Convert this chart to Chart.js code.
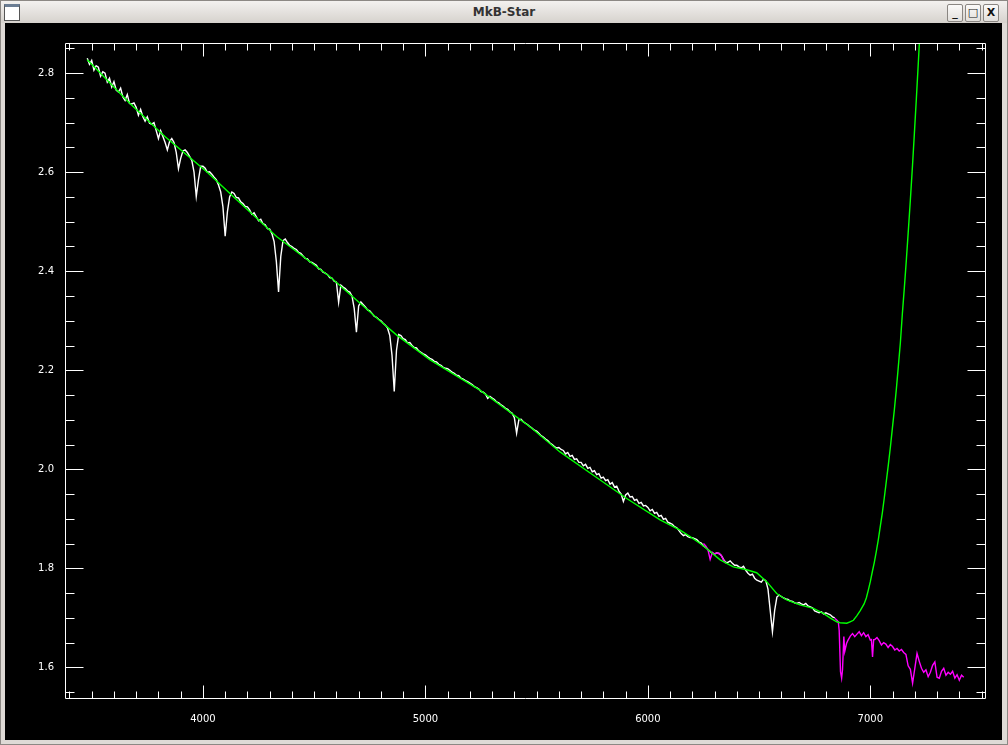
<!DOCTYPE html>
<html>
<head>
<meta charset="utf-8">
<title>MkB-Star</title>
<script src="https://cdn.jsdelivr.net/npm/chart.js@4.4.1/dist/chart.umd.min.js"></script>
<style>
  body { margin: 0; width: 1008px; height: 745px; background: #d9d5d1; position: relative; overflow: hidden; font-family: "DejaVu Sans", sans-serif; }
  #win { position: absolute; left: 0; top: 0; width: 1006px; height: 743px; border: 1px solid #8c8884; background: #dedad6; }
  #titlebar { position: absolute; left: 0; top: 0; width: 1006px; height: 22px; background: linear-gradient(#f3f1ef, #d6d2cd); }
  #title { position: absolute; left: 0; width: 1006px; top: 4px; text-align: center; font-size: 12px; font-weight: bold; color: #333; }
  #icon { position: absolute; left: 3px; top: 3px; width: 14px; height: 13px; border: 1px solid #555; background: #fff; border-top: 3px solid #6b7d93; }
  .btn { position: absolute; top: 3px; width: 14px; height: 16px; border: 1px solid #8a8682; border-radius: 2px; background: linear-gradient(#fbfaf9, #e2dfdb); font-size: 11px; font-weight: bold; color: #111; text-align: center; line-height: 16px; }
  #plot { position: absolute; left: 4px; top: 22px; width: 997px; height: 717px; background: #000; }
</style>
</head>
<body>
<div id="win">
  <div id="titlebar">
    <div id="icon"></div>
    <div id="title">MkB-Star</div>
    <div class="btn" style="left:946px">_</div>
    <div class="btn" style="left:964px">&#9633;</div>
    <div class="btn" style="left:982px">X</div>
  </div>
  <div id="plot"><canvas id="spec" width="997" height="717"></canvas></div>
</div>
<script>
// wavelength grid of the observed spectrum (white), Angstrom
const waveStart = 3480;
const waveStep = 10;
const whiteFlux = [
  2.830, 2.818,
  2.826, 2.806, 2.815, 2.812, 2.794, 2.803, 2.800, 2.782, 2.790, 2.772,
  2.783, 2.766, 2.762, 2.770, 2.752, 2.745, 2.757, 2.739, 2.738, 2.740,
  2.731, 2.715, 2.727, 2.712, 2.703, 2.712, 2.699, 2.697, 2.700, 2.684,
  2.668, 2.684, 2.672, 2.660, 2.645, 2.662, 2.668, 2.660, 2.640, 2.607,
  2.628, 2.643, 2.645, 2.640, 2.632, 2.624, 2.600, 2.551, 2.585, 2.612,
  2.612, 2.608, 2.600, 2.601, 2.596, 2.590, 2.585, 2.574, 2.560, 2.530,
  2.471, 2.520, 2.550, 2.560, 2.557, 2.549, 2.548, 2.540, 2.537, 2.531,
  2.530, 2.524, 2.515, 2.518, 2.510, 2.502, 2.505, 2.496, 2.494, 2.486,
  2.485, 2.476, 2.460, 2.420, 2.358, 2.430, 2.462, 2.465, 2.458, 2.452,
  2.450, 2.446, 2.444, 2.438, 2.436, 2.431, 2.426, 2.425, 2.419, 2.418,
  2.415, 2.412, 2.405, 2.404, 2.398, 2.396, 2.393, 2.387, 2.386, 2.380,
  2.378, 2.337, 2.372, 2.368, 2.365, 2.360, 2.358, 2.350, 2.325, 2.277,
  2.330, 2.338, 2.333, 2.328, 2.322, 2.320, 2.315, 2.309, 2.307, 2.303,
  2.300, 2.295, 2.291, 2.285, 2.270, 2.230, 2.157, 2.240, 2.272, 2.270,
  2.264, 2.262, 2.255, 2.256, 2.250, 2.246, 2.245, 2.239, 2.236, 2.233,
  2.231, 2.227, 2.224, 2.222, 2.218, 2.217, 2.212, 2.210, 2.206, 2.204,
  2.203, 2.200, 2.196, 2.194, 2.190, 2.189, 2.184, 2.182, 2.179, 2.177,
  2.174, 2.171, 2.167, 2.165, 2.162, 2.157, 2.156, 2.152, 2.143, 2.147,
  2.144, 2.141, 2.136, 2.134, 2.130, 2.127, 2.123, 2.121, 2.116, 2.113,
  2.104, 2.073, 2.100, 2.101, 2.096, 2.093, 2.090, 2.086, 2.083, 2.079,
  2.077, 2.073, 2.068, 2.065, 2.061, 2.058, 2.053, 2.050, 2.046, 2.043,
  2.044, 2.040, 2.038, 2.031, 2.034, 2.026, 2.028, 2.020, 2.021, 2.014,
  2.014, 2.007, 2.010, 2.002, 2.004, 1.995, 1.997, 1.989, 1.991, 1.982,
  1.984, 1.977, 1.979, 1.970, 1.973, 1.964, 1.966, 1.956, 1.950, 1.935,
  1.948, 1.952, 1.944, 1.945, 1.937, 1.939, 1.931, 1.933, 1.926, 1.927,
  1.923, 1.916, 1.919, 1.911, 1.913, 1.905, 1.907, 1.899, 1.901, 1.893,
  1.891, 1.889, 1.884, 1.882, 1.876, 1.870, 1.866, 1.868, 1.864, 1.862,
  1.862, 1.860, 1.858, 1.853, 1.851, 1.845, 1.842, 1.838, 1.834, 1.830,
  1.829, 1.831, 1.830, 1.826, 1.818, 1.812, 1.812, 1.815, 1.810, 1.806,
  1.806, 1.803, 1.801, 1.804, 1.796, 1.790, 1.786, 1.788, 1.780, 1.776,
  1.774, 1.772, 1.778, 1.775, 1.758, 1.715, 1.672, 1.715, 1.742, 1.746,
  1.743, 1.740, 1.738, 1.737, 1.734, 1.733, 1.730, 1.729, 1.731, 1.728,
  1.726, 1.729, 1.724, 1.722, 1.720, 1.714, 1.712, 1.710, 1.712, 1.708,
  1.710, 1.708, 1.706, 1.702, 1.700
];

// masked pixels (magenta)
const magBlueWave = [6250, 6260, 6270, 6280, 6290, 6300, 6310, 6320, 6330, 6340, 6350];
const magBlueFlux = [1.850, 1.845, 1.838, 1.818, 1.832, 1.829, 1.831, 1.830, 1.826, 1.817, 1.810];

const magRedWave = [6840, 6850, 6856, 6860, 6866, 6871, 6875, 6881, 6885, 6893,
  6900, 6910, 6920, 6930, 6940, 6950, 6960, 6970, 6980, 6990,
  7000, 7005, 7010, 7015, 7020, 7030, 7040, 7050, 7060, 7070, 7080, 7090,
  7100, 7110, 7120, 7130, 7140, 7150, 7160, 7170, 7180, 7190,
  7200, 7210, 7220, 7230, 7240, 7250, 7260, 7270, 7280, 7290,
  7300, 7310, 7320, 7330, 7340, 7350, 7360, 7370, 7380, 7390,
  7400, 7410, 7420];
const magRedFlux = [1.699, 1.695, 1.692, 1.675, 1.591, 1.578, 1.595, 1.662, 1.632, 1.648,
  1.655, 1.663, 1.668, 1.662, 1.667, 1.672, 1.664, 1.670, 1.662, 1.666,
  1.655, 1.656, 1.621, 1.656, 1.656, 1.660, 1.654, 1.645, 1.650, 1.647, 1.640, 1.646,
  1.642, 1.635, 1.638, 1.633, 1.636, 1.630, 1.626, 1.603, 1.596, 1.568,
  1.598, 1.628, 1.612, 1.598, 1.590, 1.595, 1.581, 1.590, 1.604, 1.611,
  1.580, 1.578, 1.592, 1.598, 1.584, 1.590, 1.586, 1.592, 1.578, 1.585,
  1.574, 1.584, 1.580];

// continuum fit (green)
const fitWave = [3480, 3672, 3829, 4017, 4136, 4331, 4571, 4796, 4871, 5021,
  5245, 5470, 5605, 5755, 5905, 6055, 6145, 6190, 6235, 6264,
  6325, 6384, 6444, 6489, 6534, 6579, 6624, 6684, 6744, 6789,
  6819, 6849, 6864, 6894, 6909, 6924, 6939, 6954, 6972, 6982,
  6991, 7000, 7009, 7018, 7027, 7036, 7045, 7054, 7063, 7072,
  7081, 7090, 7099, 7108, 7117, 7126, 7135, 7144, 7153, 7162,
  7171, 7180, 7189, 7198, 7207, 7216, 7225];
const fitFlux = [2.827, 2.739, 2.672, 2.601, 2.551, 2.470, 2.389, 2.300, 2.271, 2.221,
  2.160, 2.086, 2.035, 1.988, 1.941, 1.898, 1.877, 1.864, 1.850, 1.840,
  1.817, 1.803, 1.797, 1.791, 1.773, 1.749, 1.736, 1.726, 1.719, 1.709,
  1.700, 1.692, 1.690, 1.689, 1.692, 1.695, 1.704, 1.714, 1.728, 1.740,
  1.756, 1.773, 1.793, 1.812, 1.834, 1.858, 1.885, 1.912, 1.943, 1.976,
  2.009, 2.044, 2.082, 2.120, 2.162, 2.208, 2.255, 2.314, 2.367, 2.423,
  2.483, 2.544, 2.609, 2.678, 2.749, 2.823, 2.900];

// axes
const xRange = [3380, 7520];
const yRange = [1.536, 2.861];
const xMajorTicks = [4000, 5000, 6000, 7000];
const yMajorTicks = [1.6, 1.8, 2.0, 2.2, 2.4, 2.6, 2.8];
const xMinorStep = 100;
const yMinorStep = 0.05;

const toPoints = (xs, ys) => ys.map((v, i) => ({ x: xs[i], y: v }));
const whiteWave = whiteFlux.map((_, i) => waveStart + i * waveStep);

// IDL style box with inward ticks on all four sides
const idlBox = {
  id: "idlBox",
  afterDraw(chart) {
    const { ctx, chartArea: a, scales } = chart;
    const L = Math.round(a.left) + 0.5, R = Math.round(a.right) - 0.5;
    const T = Math.round(a.top) + 0.5, B = Math.round(a.bottom) - 0.5;
    ctx.save();
    ctx.strokeStyle = "#ffffff";
    ctx.lineWidth = 1;
    ctx.beginPath();
    ctx.rect(L, T, R - L, B - T);
    for (let v = 3400; v <= xRange[1]; v += xMinorStep) {
      const px = Math.round(scales.x.getPixelForValue(v)) + 0.5;
      const len = v % 1000 === 0 ? 13 : 7;
      ctx.moveTo(px, B); ctx.lineTo(px, B - len);
      ctx.moveTo(px, T); ctx.lineTo(px, T + len);
    }
    for (let k = 31; k * yMinorStep <= yRange[1]; k++) {
      const v = k * yMinorStep;
      const py = Math.round(scales.y.getPixelForValue(v)) + 0.5;
      const len = k % 4 === 0 ? 18 : 9;
      ctx.moveTo(L, py); ctx.lineTo(L + len, py);
      ctx.moveTo(R, py); ctx.lineTo(R - len, py);
    }
    ctx.stroke();
    ctx.restore();
  }
};

new Chart(document.getElementById("spec"), {
  type: "line",
  data: {
    datasets: [
      { label: "fit", data: toPoints(fitWave, fitFlux), borderColor: "#00ff00", order: 0 },
      { label: "mask", data: toPoints(magBlueWave, magBlueFlux), borderColor: "#ff00ff", order: 1 },
      { label: "mask2", data: toPoints(magRedWave, magRedFlux), borderColor: "#ff00ff", order: 1 },
      { label: "spectrum", data: toPoints(whiteWave, whiteFlux), borderColor: "#ffffff", order: 2 }
    ]
  },
  options: {
    responsive: false,
    animation: false,
    events: [],
    layout: { padding: { top: 20, right: 16, left: 0, bottom: 0 } },
    elements: {
      line: { borderWidth: 1.4, tension: 0 },
      point: { radius: 0 }
    },
    plugins: { legend: { display: false }, tooltip: { enabled: false } },
    scales: {
      x: {
        type: "linear",
        min: xRange[0],
        max: xRange[1],
        grid: { display: false },
        border: { display: false },
        afterBuildTicks: (s) => { s.ticks = xMajorTicks.map((v) => ({ value: v })); },
        afterFit: (s) => { s.height = 41; },
        ticks: {
          color: "#ffffff",
          padding: 6,
          maxRotation: 0,
          font: { family: "DejaVu Sans", size: 10 },
          callback: (v) => String(v)
        }
      },
      y: {
        type: "linear",
        min: yRange[0],
        max: yRange[1],
        grid: { display: false },
        border: { display: false },
        afterBuildTicks: (s) => { s.ticks = yMajorTicks.map((v) => ({ value: v })); },
        afterFit: (s) => { s.width = 60; },
        ticks: {
          color: "#ffffff",
          padding: 3,
          font: { family: "DejaVu Sans", size: 10 },
          callback: (v) => Number(v).toFixed(1)
        }
      }
    }
  },
  plugins: [idlBox]
});
</script>
</body>
</html>
